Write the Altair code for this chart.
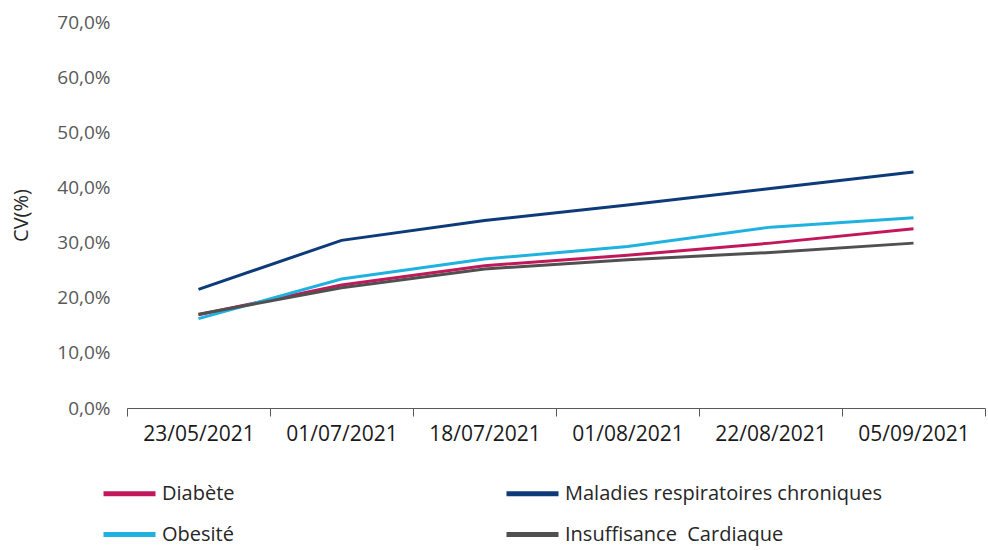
import altair as alt
import pandas as pd

dates = ["23/05/2021", "01/07/2021", "18/07/2021", "01/08/2021", "22/08/2021", "05/09/2021"]
series = ["Diabète", "Maladies respiratoires chroniques", "Obesité", "Insuffisance\u00a0 Cardiaque"]
colors = ["#C2185B", "#0D3B7A", "#1FB2E0", "#505050"]

diabete = [0.169, 0.223, 0.258, 0.277, 0.299, 0.325]
maladies = [0.215, 0.304, 0.340, 0.368, 0.398, 0.428]
obesite = [0.162, 0.234, 0.270, 0.293, 0.328, 0.345]
insuffisance = [0.170, 0.218, 0.252, 0.269, 0.282, 0.299]

rows = []
for name, vals in zip(series, [diabete, maladies, obesite, insuffisance]):
    for d, v in zip(dates, vals):
        rows.append({"date": d, "serie": name, "cv": v})
df = pd.DataFrame(rows)

FONT = "Open Sans"

chart = alt.Chart(df).mark_line(strokeWidth=3).encode(
    x=alt.X("date:N", sort=dates, title=None,
            scale=alt.Scale(paddingInner=0, paddingOuter=0),
            axis=alt.Axis(labelAngle=0, domainColor="#595959", tickColor="#595959",
                          tickSize=8, tickBand="extent", labelFontSize=21,
                          labelColor="#1a1a1a", labelPadding=7, labelFont=FONT,
                          grid=False)),
    y=alt.Y("cv:Q", title="CV(%)",
            scale=alt.Scale(domain=[0, 0.7]),
            axis=alt.Axis(values=[0, 0.1, 0.2, 0.3, 0.4, 0.5, 0.6, 0.7],
                          labelExpr="replace(format(datum.value, '.1%'), '.', ',')",
                          domain=False, ticks=False, grid=False,
                          labelFontSize=19, labelColor="#595959", labelPadding=17,
                          labelFont=FONT,
                          titleFontSize=20, titleFontWeight="normal", titleColor="#262626",
                          titleFont=FONT, titlePadding=25)),
    color=alt.Color("serie:N", sort=series,
                    scale=alt.Scale(domain=series, range=colors),
                    legend=alt.Legend(title=None, orient="none", legendX=-26, legendY=443,
                                      direction="horizontal",
                                      columns=2, columnPadding=261, rowPadding=2,
                                      symbolType="stroke", symbolSize=2704,
                                      symbolStrokeWidth=5, labelFontSize=20,
                                      labelFont=FONT, labelColor="#262626",
                                      labelOffset=4, labelLimit=400)),
    order=alt.Order("order:Q"),
).transform_calculate(
    order="datum.serie == 'Maladies respiratoires chroniques' ? 0 : datum.serie == 'Obesité' ? 1 : datum.serie == 'Diabète' ? 2 : 3"
).properties(
    width=858, height=386,
    autosize=alt.AutoSizeParams(type="none"),
    padding={"left": 127, "top": 22, "right": 3, "bottom": 142},
).configure(background="white").configure_view(strokeWidth=0)

chart.save("out.html", embed_options={"renderer": "svg", "actions": False})
